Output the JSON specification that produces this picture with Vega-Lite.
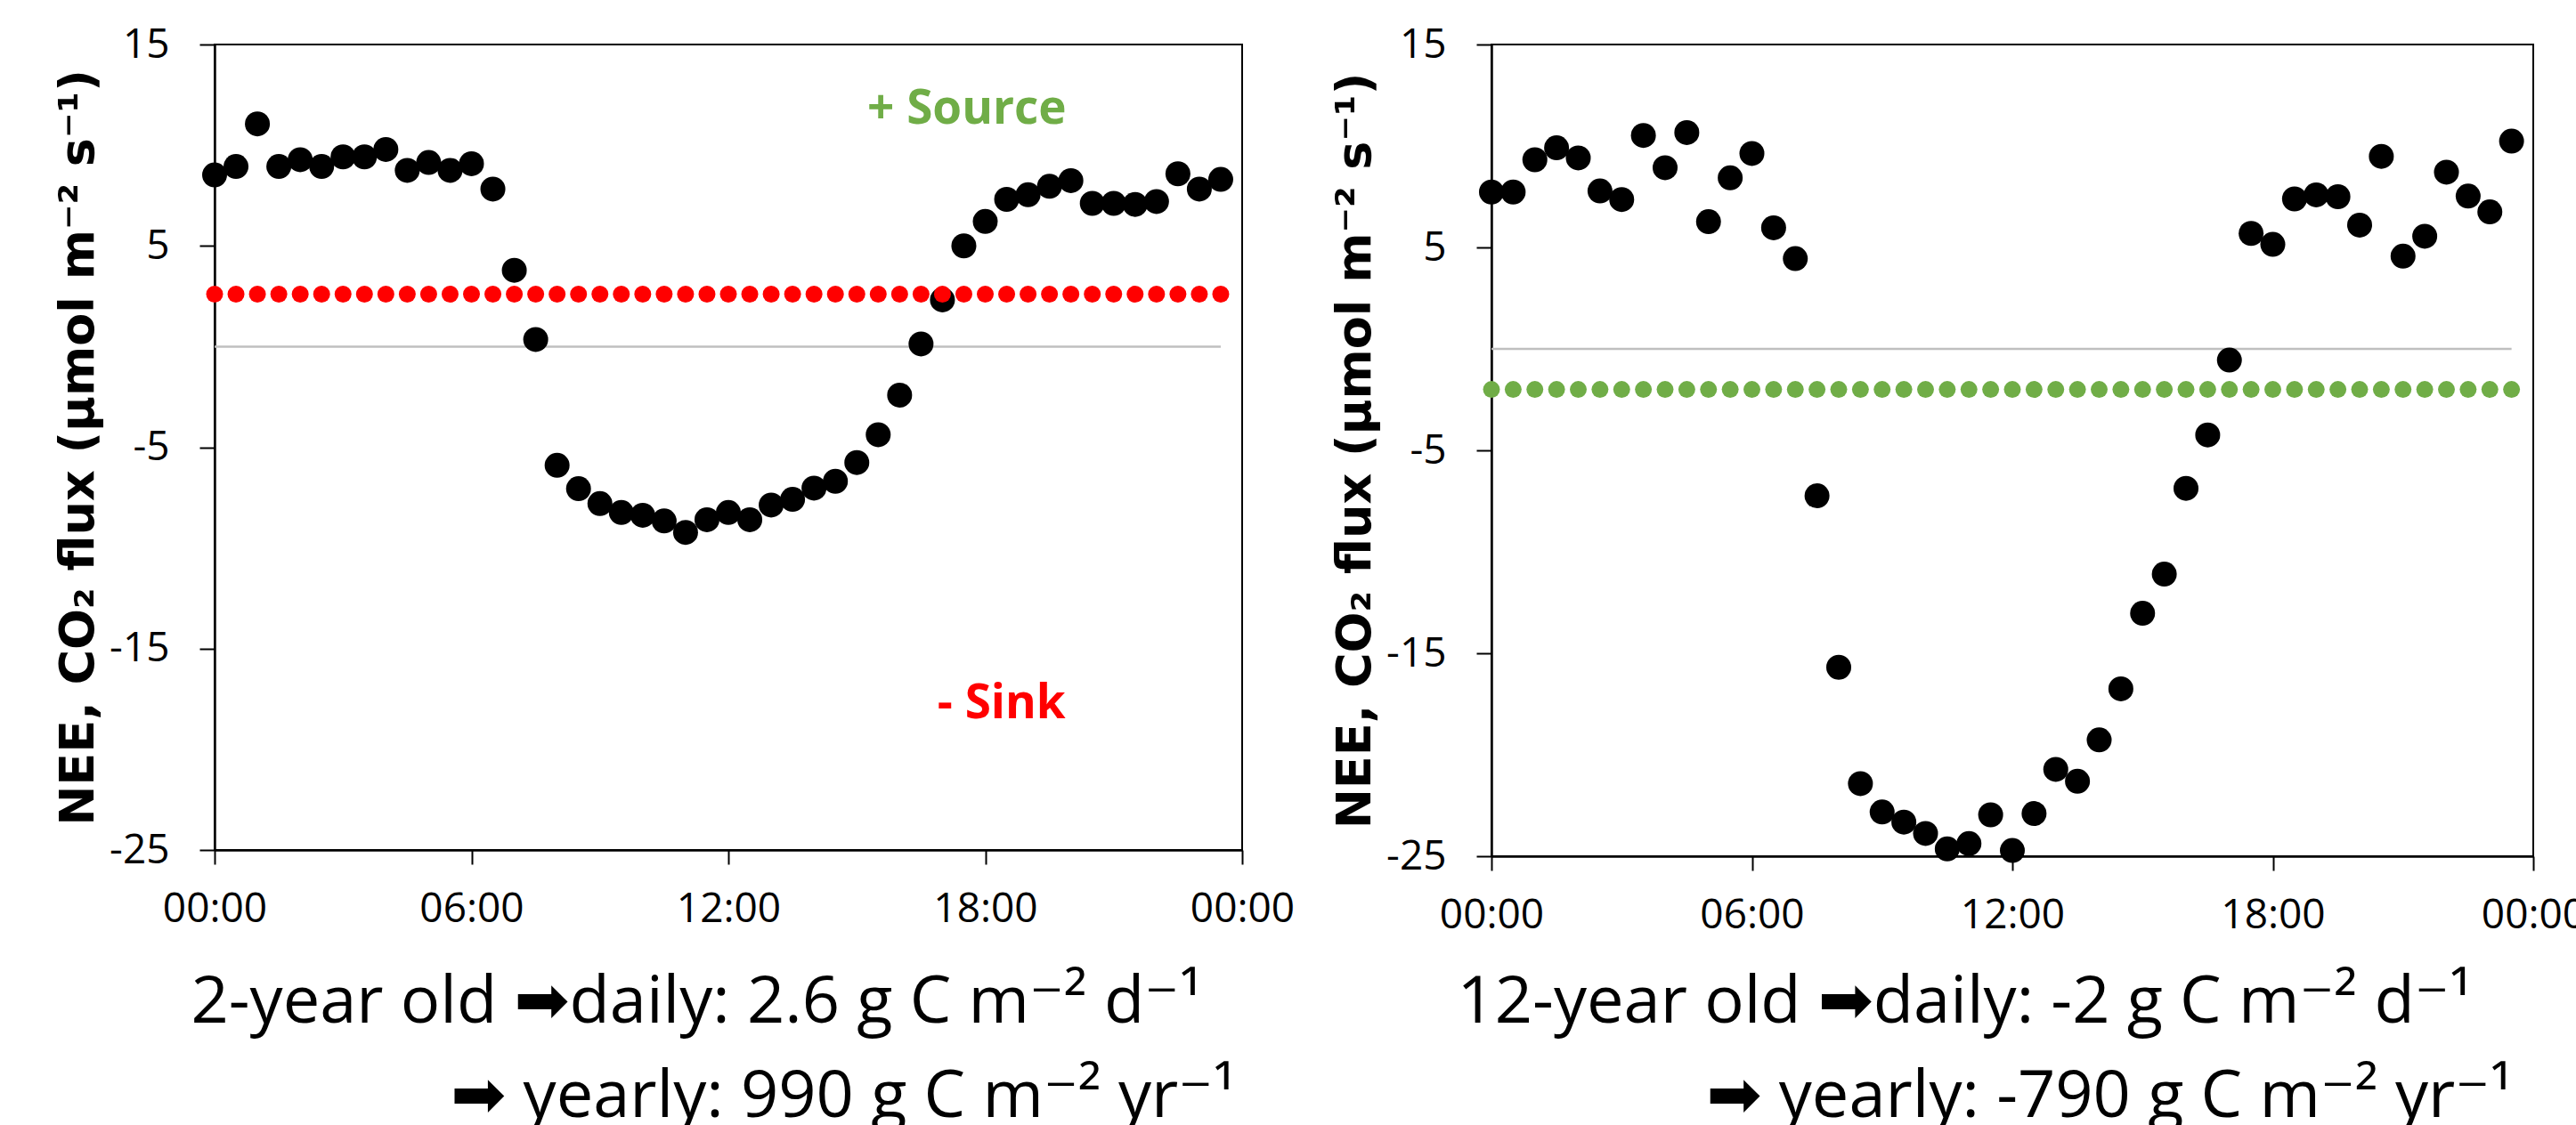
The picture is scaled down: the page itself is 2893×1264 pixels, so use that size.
{
  "$schema": "https://vega.github.io/schema/vega-lite/v6.json",
  "background": "white",
  "padding": {"left": 59, "top": 26, "right": 0, "bottom": 0},
  "spacing": 38,
  "config": {
    "view": {"stroke": "black", "strokeWidth": 2},
    "axis": {
      "grid": false,
      "domainColor": "black",
      "domainWidth": 2.5,
      "tickColor": "black",
      "tickWidth": 2,
      "labelColor": "black",
      "labelFont": "Open Sans",
      "labelFontSize": 46,
      "labelFlush": false,
      "labelOverlap": false,
      "titleColor": "black"
    }
  },
  "datasets": {
    "young": [
      {"t":0,"nee":8.52,"mean":2.6},{"t":0.5,"nee":8.94,"mean":2.6},{"t":1,"nee":11.06,"mean":2.6},{"t":1.5,"nee":8.94,"mean":2.6},
      {"t":2,"nee":9.28,"mean":2.6},{"t":2.5,"nee":8.94,"mean":2.6},{"t":3,"nee":9.42,"mean":2.6},{"t":3.5,"nee":9.42,"mean":2.6},
      {"t":4,"nee":9.79,"mean":2.6},{"t":4.5,"nee":8.75,"mean":2.6},{"t":5,"nee":9.14,"mean":2.6},{"t":5.5,"nee":8.75,"mean":2.6},
      {"t":6,"nee":9.08,"mean":2.6},{"t":6.5,"nee":7.82,"mean":2.6},{"t":7,"nee":3.79,"mean":2.6},{"t":7.5,"nee":0.35,"mean":2.6},
      {"t":8,"nee":-5.9,"mean":2.6},{"t":8.5,"nee":-7.06,"mean":2.6},{"t":9,"nee":-7.8,"mean":2.6},{"t":9.5,"nee":-8.24,"mean":2.6},
      {"t":10,"nee":-8.38,"mean":2.6},{"t":10.5,"nee":-8.66,"mean":2.6},{"t":11,"nee":-9.23,"mean":2.6},{"t":11.5,"nee":-8.6,"mean":2.6},
      {"t":12,"nee":-8.24,"mean":2.6},{"t":12.5,"nee":-8.6,"mean":2.6},{"t":13,"nee":-7.87,"mean":2.6},{"t":13.5,"nee":-7.59,"mean":2.6},
      {"t":14,"nee":-7.03,"mean":2.6},{"t":14.5,"nee":-6.69,"mean":2.6},{"t":15,"nee":-5.76,"mean":2.6},{"t":15.5,"nee":-4.38,"mean":2.6},
      {"t":16,"nee":-2.41,"mean":2.6},{"t":16.5,"nee":0.13,"mean":2.6},{"t":17,"nee":2.32,"mean":2.6},{"t":17.5,"nee":5.0,"mean":2.6},
      {"t":18,"nee":6.21,"mean":2.6},{"t":18.5,"nee":7.31,"mean":2.6},{"t":19,"nee":7.54,"mean":2.6},{"t":19.5,"nee":7.96,"mean":2.6},
      {"t":20,"nee":8.24,"mean":2.6},{"t":20.5,"nee":7.11,"mean":2.6},{"t":21,"nee":7.11,"mean":2.6},{"t":21.5,"nee":7.06,"mean":2.6},
      {"t":22,"nee":7.2,"mean":2.6},{"t":22.5,"nee":8.58,"mean":2.6},{"t":23,"nee":7.82,"mean":2.6},{"t":23.5,"nee":8.3,"mean":2.6}
    ],
    "old": [
      {"t":0,"nee":7.73,"mean":-2},{"t":0.5,"nee":7.73,"mean":-2},{"t":1,"nee":9.32,"mean":-2},{"t":1.5,"nee":9.91,"mean":-2},
      {"t":2,"nee":9.41,"mean":-2},{"t":2.5,"nee":7.78,"mean":-2},{"t":3,"nee":7.36,"mean":-2},{"t":3.5,"nee":10.52,"mean":-2},
      {"t":4,"nee":8.93,"mean":-2},{"t":4.5,"nee":10.66,"mean":-2},{"t":5,"nee":6.27,"mean":-2},{"t":5.5,"nee":8.43,"mean":-2},
      {"t":6,"nee":9.63,"mean":-2},{"t":6.5,"nee":5.97,"mean":-2},{"t":7,"nee":4.45,"mean":-2},{"t":7.5,"nee":-7.24,"mean":-2},
      {"t":8,"nee":-15.69,"mean":-2},{"t":8.5,"nee":-21.42,"mean":-2},{"t":9,"nee":-22.82,"mean":-2},{"t":9.5,"nee":-23.32,"mean":-2},
      {"t":10,"nee":-23.88,"mean":-2},{"t":10.5,"nee":-24.64,"mean":-2},{"t":11,"nee":-24.38,"mean":-2},{"t":11.5,"nee":-22.96,"mean":-2},
      {"t":12,"nee":-24.72,"mean":-2},{"t":12.5,"nee":-22.9,"mean":-2},{"t":13,"nee":-20.72,"mean":-2},{"t":13.5,"nee":-21.31,"mean":-2},
      {"t":14,"nee":-19.27,"mean":-2},{"t":14.5,"nee":-16.75,"mean":-2},{"t":15,"nee":-13.03,"mean":-2},{"t":15.5,"nee":-11.1,"mean":-2},
      {"t":16,"nee":-6.87,"mean":-2},{"t":16.5,"nee":-4.24,"mean":-2},{"t":17,"nee":-0.55,"mean":-2},{"t":17.5,"nee":5.69,"mean":-2},
      {"t":18,"nee":5.15,"mean":-2},{"t":18.5,"nee":7.39,"mean":-2},{"t":19,"nee":7.59,"mean":-2},{"t":19.5,"nee":7.5,"mean":-2},
      {"t":20,"nee":6.1,"mean":-2},{"t":20.5,"nee":9.49,"mean":-2},{"t":21,"nee":4.57,"mean":-2},{"t":21.5,"nee":5.55,"mean":-2},
      {"t":22,"nee":8.71,"mean":-2},{"t":22.5,"nee":7.53,"mean":-2},{"t":23,"nee":6.75,"mean":-2},{"t":23.5,"nee":10.24,"mean":-2}
    ]
  },
  "hconcat": [
    {
      "width": 1154,
      "height": 905,
      "data": {"name": "young"},
      "title": {"text": "➡ yearly: 990 g C m⁻² yr⁻¹", "orient": "bottom", "anchor": "end", "frame": "group", "dx": -7, "offset": 34, "font": "Open Sans, DejaVu Sans", "fontSize": 74, "fontWeight": "normal", "color": "black"},
      "encoding": {
        "x": {"field": "t", "type": "quantitative", "scale": {"domain": [0, 24], "nice": false, "zero": false},
          "axis": {"values": [0, 6, 12, 18, 24], "labelExpr": "(datum.value % 24 < 10 ? '0' : '') + (datum.value % 24) + ':00'", "tickSize": 16, "labelPadding": 28,
            "title": "2-year old ➡daily: 2.6 g C m⁻² d⁻¹", "titleFont": "Open Sans, DejaVu Sans", "titleFontSize": 74, "titleFontWeight": "normal", "titleAlign": "left", "titleBaseline": "alphabetic", "titleX": -27, "titleY": 193}}
      },
      "layer": [
        {"mark": {"type": "line", "color": "#BFBFBF", "strokeWidth": 2.5}, "encoding": {"y": {"datum": 0, "type": "quantitative"}}},
        {"mark": {"type": "point", "filled": true, "shape": "circle", "color": "black", "size": 784, "opacity": 1},
          "encoding": {"y": {"field": "nee", "type": "quantitative", "scale": {"domain": [-25, 15], "nice": false, "zero": false},
            "axis": {"values": [-25, -15, -5, 5, 15], "labelExpr": "'' + datum.value", "tickSize": 17, "labelPadding": 34, "title": "NEE, CO₂ flux (μmol m⁻² s⁻¹)", "titleFont": "DejaVu Sans", "titleFontSize": 54, "titleFontWeight": "bold", "titleBaseline": "alphabetic", "titleX": -137}}}},
        {"mark": {"type": "point", "filled": true, "shape": "circle", "color": "#FF0000", "size": 361, "opacity": 1},
          "encoding": {"y": {"field": "mean", "type": "quantitative"}}},
        {"data": {"values": [{"t": 17.57, "v": 11.77, "label": "+ Source"}]},
          "mark": {"type": "text", "font": "Open Sans", "fontSize": 53, "fontWeight": "bold", "color": "#70AD47", "baseline": "middle"},
          "encoding": {"y": {"field": "v", "type": "quantitative"}, "text": {"field": "label"}}},
        {"data": {"values": [{"t": 18.38, "v": -17.75, "label": "- Sink"}]},
          "mark": {"type": "text", "font": "Open Sans", "fontSize": 53, "fontWeight": "bold", "color": "#FF0000", "baseline": "middle"},
          "encoding": {"y": {"field": "v", "type": "quantitative"}, "text": {"field": "label"}}}
      ]
    },
    {
      "width": 1170,
      "height": 912,
      "data": {"name": "old"},
      "title": {"text": "➡ yearly: -790 g C m⁻² yr⁻¹", "orient": "bottom", "anchor": "end", "frame": "group", "dx": -23, "offset": 34, "font": "Open Sans, DejaVu Sans", "fontSize": 74, "fontWeight": "normal", "color": "black"},
      "encoding": {
        "x": {"field": "t", "type": "quantitative", "scale": {"domain": [0, 24], "nice": false, "zero": false},
          "axis": {"values": [0, 6, 12, 18, 24], "labelExpr": "(datum.value % 24 < 10 ? '0' : '') + (datum.value % 24) + ':00'", "tickSize": 16, "labelPadding": 28,
            "title": "12-year old ➡daily: -2 g C m⁻² d⁻¹", "titleFont": "Open Sans, DejaVu Sans", "titleFontSize": 74, "titleFontWeight": "normal", "titleAlign": "left", "titleBaseline": "alphabetic", "titleX": -39, "titleY": 186}}
      },
      "layer": [
        {"mark": {"type": "line", "color": "#BFBFBF", "strokeWidth": 2.5}, "encoding": {"y": {"datum": 0, "type": "quantitative"}}},
        {"mark": {"type": "point", "filled": true, "shape": "circle", "color": "black", "size": 784, "opacity": 1},
          "encoding": {"y": {"field": "nee", "type": "quantitative", "scale": {"domain": [-25, 15], "nice": false, "zero": false},
            "axis": {"values": [-25, -15, -5, 5, 15], "labelExpr": "'' + datum.value", "tickSize": 17, "labelPadding": 34, "title": "NEE, CO₂ flux (μmol m⁻² s⁻¹)", "titleFont": "DejaVu Sans", "titleFontSize": 54, "titleFontWeight": "bold", "titleBaseline": "alphabetic", "titleX": -137}}}},
        {"mark": {"type": "point", "filled": true, "shape": "circle", "color": "#70AD47", "size": 361, "opacity": 1},
          "encoding": {"y": {"field": "mean", "type": "quantitative"}}}
      ]
    }
  ]
}
